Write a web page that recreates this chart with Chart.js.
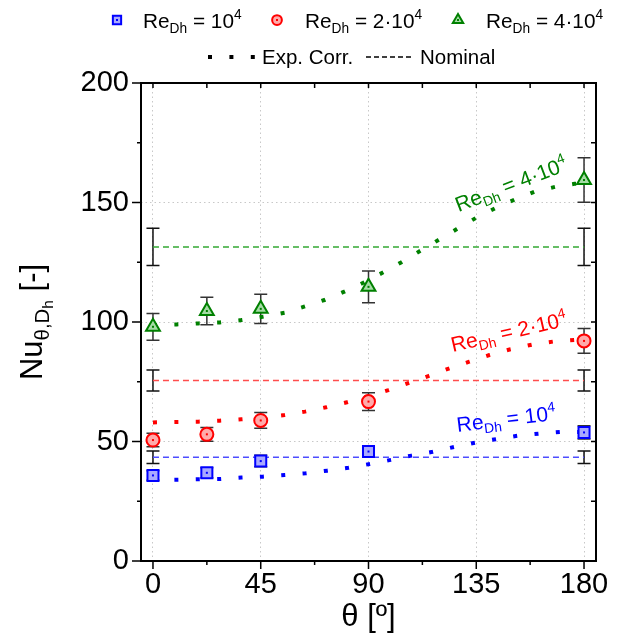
<!DOCTYPE html>
<html>
<head>
<meta charset="utf-8">
<script src="https://cdn.jsdelivr.net/npm/chart.js@4.4.0/dist/chart.umd.min.js"></script>
<style>
html,body{margin:0;padding:0;background:#fff}
</style>
</head>
<body>
<canvas id="nuChart" width="622" height="640"></canvas>
<script>
const REG="'Liberation Sans',Arial,sans-serif";

// measured points
const theta=[0,22.5,45,90,180];
const nuRe1=[35.8,36.9,41.8,45.8,53.8];
const errRe1=[2.0,2.1,2.4,2.4,2.8];
const nuRe2=[50.6,53.0,58.8,66.7,92.1];
const errRe2=[2.8,2.9,3.3,3.7,5.2];
const nuRe4=[98.0,104.6,105.5,114.7,159.4];
const errRe4=[5.6,5.8,6.1,6.6,9.3];

// nominal values (flat over theta)
const nominalX=[0,180];
const nomRe1=43.4, nomErr1=2.6;
const nomRe2=75.5, nomErr2=4.4;
const nomRe4=131.4, nomErr4=7.8;

// experimental correlation curves
const corrX1=[0,9.9,18.9,27.9,36.9,45.8,55,63.8,72.8,81.6,90.6,99.3,108,116.8,125.7,134.5,143.4,152.2,161.2,170.1,180];
const corrY1=[33.9,34.0,34.2,34.3,34.9,35.3,36.0,36.7,37.8,39.0,40.6,42.3,44.1,45.7,47.7,49.5,51.0,52.4,53.3,54.0,54.0];
const corrX2=[0,9.9,18.9,27.9,36.9,45.8,55,63.5,72.3,81,89.7,98.3,106.6,115,123.5,132.1,140.5,149.3,158.2,167,176,180];
const corrY2=[58.0,58.2,58.3,58.7,59.3,60.0,61.1,62.5,64.3,66.4,68.9,71.5,74.4,77.4,80.5,83.4,86.2,88.6,90.5,91.8,92.5,92.7];
const corrX4=[0,9.9,18.9,27.9,36.9,45.8,55,63.1,71.6,79.9,87.8,95.8,103.6,111.5,119.2,126.9,134.8,142.9,151.2,159.3,168.2,176,180];
const corrY4=[98.7,99.0,99.4,99.8,100.8,102.2,103.9,106.4,109.2,112.7,116.4,120.6,124.9,129.7,134.3,138.9,143.5,147.6,151.3,154.5,156.6,157.8,158.2];

const xTicks=[0,45,90,135,180];
const yTicks=[0,50,100,150,200];

const BLUE="#0000ff", RED="#ff0000", GREEN="#008000";

function pts(xs,ys){return xs.map((x,i)=>({x:x,y:ys[i]}));}
function flat(v){return nominalX.map(x=>({x:x,y:v}));}

function pointSet(ys,errs,style,r,fill,col){
return {data:pts(theta,ys),showLine:false,pointStyle:style,pointRadius:r,
backgroundColor:fill,borderColor:col,pointBorderWidth:2,order:0,
errorBars:errs,errorColor:"#333",centerDot:true};
}
function corrSet(xs,ys,col){
return {data:pts(xs,ys),showLine:true,pointRadius:0,borderColor:col,borderWidth:4,
borderDash:[4,17.4],borderCapStyle:"butt",tension:0,order:1};
}
function nomSet(v,e,col){
return {data:flat(v),showLine:true,pointRadius:0,borderColor:col,borderWidth:1.5,
borderDash:[6,4],order:2,errorBars:[e,e],errorColor:"#111"};
}

function fontFor(level,size,fam){
const s=level===0?size:(level===-2?size*0.5:size*0.66);
return s+"px "+fam;
}
function richWidth(ctx,parts,size,fam){
let w=0;
for(const [t,l] of parts){ctx.font=fontFor(l,size,fam);w+=ctx.measureText(t).width;}
return w;
}
function drawRich(ctx,parts,x,y,size,fam,color,angle,center){
ctx.save();
ctx.translate(x,y);
ctx.rotate(angle);
ctx.fillStyle=color;
ctx.textBaseline="alphabetic";
ctx.textAlign="left";
let cx=center?-richWidth(ctx,parts,size,fam)/2:0;
for(const [t,l] of parts){
const dy=l===-1?size*0.22:(l===-2?size*0.36:(l===1?-size*0.42:0));
ctx.font=fontFor(l,size,fam);
ctx.fillText(t,cx,dy);
cx+=ctx.measureText(t).width;
}
ctx.restore();
}

const curveLabels=[
{parts:[["Re",0],["Dh",-1],[" = 4\u00b710",0],["4",1]],x:127.6,y:146,angle:-21,color:GREEN},
{parts:[["Re",0],["Dh",-1],[" = 2\u00b710",0],["4",1]],x:125.2,y:87.4,angle:-13,color:RED},
{parts:[["Re",0],["Dh",-1],[" = 10",0],["4",1]],x:127.2,y:54,angle:-7,color:BLUE}
];

const decor={
id:"decor",
beforeDatasetsDraw(chart){
const ctx=chart.ctx, xs=chart.scales.x, ys=chart.scales.y;
chart.data.datasets.forEach(ds=>{
if(!ds.errorBars) return;
ctx.save();
ctx.strokeStyle=ds.errorColor;
ctx.lineWidth=1.5;
ds.data.forEach((p,j)=>{
const e=ds.errorBars[j];
const px=xs.getPixelForValue(p.x);
const t=ys.getPixelForValue(p.y+e), b=ys.getPixelForValue(p.y-e);
ctx.beginPath();
ctx.moveTo(px,t);ctx.lineTo(px,b);
ctx.moveTo(px-6.5,t);ctx.lineTo(px+6.5,t);
ctx.moveTo(px-6.5,b);ctx.lineTo(px+6.5,b);
ctx.stroke();
});
ctx.restore();
});
},
afterDatasetsDraw(chart){
const ctx=chart.ctx, xs=chart.scales.x, ys=chart.scales.y, a=chart.chartArea;
// centre dots in markers
chart.data.datasets.forEach(ds=>{
if(!ds.centerDot) return;
ctx.fillStyle=ds.borderColor;
ds.data.forEach(p=>{
ctx.fillRect(xs.getPixelForValue(p.x)-1,ys.getPixelForValue(p.y)-1,2,2);
});
});
// frame
ctx.save();
ctx.strokeStyle="#000";
ctx.lineWidth=2;
ctx.strokeRect(a.left,a.top,a.right-a.left,a.bottom-a.top);
ctx.lineWidth=1.5;
ctx.beginPath();
const xMinor=xTicks.slice(1).map((v,i)=>(v+xTicks[i])/2);
const yMinor=yTicks.slice(1).map((v,i)=>(v+yTicks[i])/2);
xTicks.forEach(v=>{const p=xs.getPixelForValue(v);ctx.moveTo(p,a.bottom);ctx.lineTo(p,a.bottom+8);ctx.moveTo(p,a.top);ctx.lineTo(p,a.top+5);});
xMinor.forEach(v=>{const p=xs.getPixelForValue(v);ctx.moveTo(p,a.bottom);ctx.lineTo(p,a.bottom+4);ctx.moveTo(p,a.top);ctx.lineTo(p,a.top+5);});
yTicks.forEach(v=>{const p=ys.getPixelForValue(v);ctx.moveTo(a.left,p);ctx.lineTo(a.left-9,p);ctx.moveTo(a.right,p);ctx.lineTo(a.right-5,p);});
yMinor.forEach(v=>{const p=ys.getPixelForValue(v);ctx.moveTo(a.left,p);ctx.lineTo(a.left-4,p);ctx.moveTo(a.right,p);ctx.lineTo(a.right-5,p);});
ctx.stroke();
ctx.restore();
// labels on the correlation curves
curveLabels.forEach(l=>{
drawRich(ctx,l.parts,xs.getPixelForValue(l.x),ys.getPixelForValue(l.y),21,REG,l.color,l.angle*Math.PI/180,false);
});
},
afterDraw(chart){
const ctx=chart.ctx;
// y axis title
ctx.save();
ctx.translate(42,322);
ctx.rotate(-Math.PI/2);
drawRich(ctx,[["Nu",0],["\u03b8,D",-1],["h",-2],[" [-]",0]],0,0,31,REG,"#000",0,true);
ctx.restore();
// legend row 1
const sets=chart.data.datasets;
const mk=[{ds:sets[0],x:117,tx:143,label:" = 10"},{ds:sets[1],x:277,tx:305,label:" = 2\u00b710"},{ds:sets[2],x:458,tx:486,label:" = 4\u00b710"}];
mk.forEach(m=>{
ctx.save();
ctx.fillStyle=m.ds.backgroundColor;
ctx.strokeStyle=m.ds.borderColor;
ctx.lineWidth=2;
Chart.helpers.drawPoint(ctx,{pointStyle:m.ds.pointStyle,radius:m.ds.pointRadius*0.75,borderWidth:2},m.x,20);
ctx.fillStyle=m.ds.borderColor;
ctx.fillRect(m.x-1,19,2,2);
ctx.restore();
drawRich(ctx,[["Re",0],["Dh",-1],[m.label,0],["4",1]],m.tx,28,20.8,REG,"#000",0,false);
});
// legend row 2
ctx.save();
ctx.strokeStyle="#000";
ctx.lineWidth=4;
ctx.setLineDash([4,17.4]);
ctx.beginPath();ctx.moveTo(208,57);ctx.lineTo(262,57);ctx.stroke();
ctx.lineWidth=1.5;
ctx.setLineDash([5,3]);
ctx.beginPath();ctx.moveTo(366,57);ctx.lineTo(412,57);ctx.stroke();
ctx.restore();
ctx.fillStyle="#000";
ctx.font="20.5px "+REG;
ctx.textBaseline="alphabetic";
ctx.fillText("Exp. Corr.",262,64);
ctx.fillText("Nominal",420,64);
}
};

new Chart(document.getElementById("nuChart"),{
type:"scatter",
data:{datasets:[
pointSet(nuRe1,errRe1,"rect",7.8,"#a9a9ff",BLUE),
pointSet(nuRe2,errRe2,"circle",6.5,"#ffaaaa",RED),
pointSet(nuRe4,errRe4,"triangle",8,"#a6dca6",GREEN),
corrSet(corrX1,corrY1,BLUE),
corrSet(corrX2,corrY2,RED),
corrSet(corrX4,corrY4,GREEN),
nomSet(nomRe1,nomErr1,"#4d4dff"),
nomSet(nomRe2,nomErr2,"#ff4d4d"),
nomSet(nomRe4,nomErr4,"#33a833")
]},
options:{
responsive:false,
animation:false,
devicePixelRatio:1,
events:[],
layout:{padding:{top:83,right:26,left:0,bottom:0}},
plugins:{legend:{display:false},tooltip:{enabled:false}},
scales:{
x:{type:"linear",min:-5,max:185,
afterBuildTicks:s=>{s.ticks=xTicks.map(v=>({value:v}));},
afterFit:s=>{s.height=79;},
grid:{color:"#c8c8c8",lineWidth:1,drawTicks:false},
border:{display:false,dash:[1.5,3]},
ticks:{color:"#000",padding:7,font:{family:REG,size:29}},
title:{display:true,text:"\u03b8 [\u00ba]",color:"#000",font:{family:REG,size:31},padding:{top:0,bottom:4}}
},
y:{type:"linear",min:0,max:200,
afterBuildTicks:s=>{s.ticks=yTicks.map(v=>({value:v}));},
afterFit:s=>{s.width=141;},
grid:{color:"#c8c8c8",lineWidth:1,drawTicks:false},
border:{display:false,dash:[1.5,3]},
ticks:{color:"#000",padding:12,font:{family:REG,size:29}}
}
}
},
plugins:[decor]
});
</script>
</body>
</html>
